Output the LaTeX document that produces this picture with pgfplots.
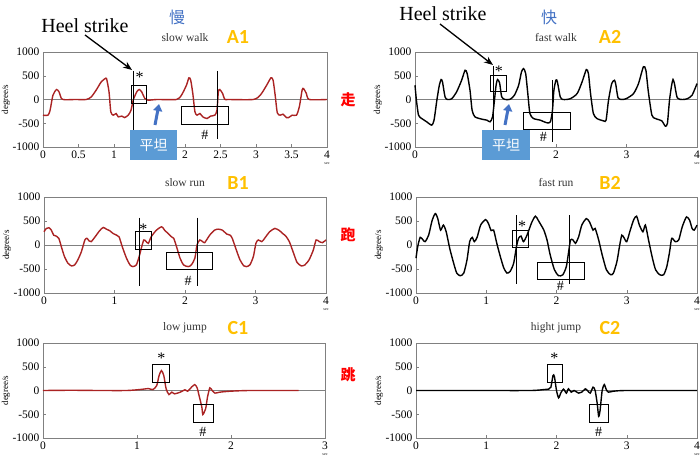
\documentclass[border=0pt]{standalone}
\usepackage{fontspec}
\setmainfont{Liberation Serif}
\newfontfamily\cjk{Noto Sans CJK SC}
\newfontfamily\lab{Carlito}
\usepackage{pgfplots}
\pgfplotsset{compat=1.18}
\usetikzlibrary{arrows.meta}
\definecolor{lred}{RGB}{170,35,35}
\definecolor{orng}{RGB}{255,192,0}
\definecolor{blueA}{RGB}{68,114,196}
\definecolor{boxblue}{RGB}{91,155,213}
\pgfplotsset{panel/.style={scale only axis, anchor=south west,
  ymin=-1000, ymax=1000, ytick={-1000,-500,0,500,1000},
  axis line style={gray}, tick style={gray}, tick align=inside, major tick length=3pt,
  ticklabel style={font=\fontsize{11.5}{11.5}\selectfont},
  /pgf/number format/assume math mode=true,
  /pgf/number format/1000 sep={},
  clip=false,
  ylabel={degree/s}, ylabel style={font=\fontsize{9}{9}\selectfont, at={(rel axis cs:0,0.5)}, anchor=center, yshift=37pt},
  xtick pos=bottom, ytick pos=left},
  curve/.style={line width=1.4pt, smooth, tension=0.4}}
\newcommand{\zeroline}[1]{\addplot[gray, thin] coordinates {(0,0) (#1,0)};}
\newcommand{\secl}{\node[font=\fontsize{4}{4}\selectfont, anchor=north] at (rel axis cs:1,0) [yshift=-12pt]{sec};}
\begin{document}
\begin{tikzpicture}[x=1pt,y=1pt]
\useasboundingbox (0,0) rectangle (700,456);
% ---------- A1
\begin{axis}[panel, at={(43pt,309pt)}, width=284pt, height=95pt, xmin=0, xmax=4, xtick={0,0.5,...,4}]
\zeroline{4}
\addplot[curve, lred] coordinates {(0,-330)(0.07,-330)(0.10,-225)(0.14,90)(0.19,210)(0.226,160)(0.26,20)(0.31,-5)(0.45,0)(0.61,0)(0.68,55)(0.75,200)(0.82,370)(0.885,450)(0.90,410)(0.93,160)(0.955,-260)(0.99,-330)(1.03,-295)(1.06,-365)(1.11,-350)(1.15,-380)(1.2,-330)(1.24,-225)(1.27,-15)(1.32,160)(1.355,210)(1.39,160)(1.435,20)(1.48,-15)(1.6,0)(1.88,0)(1.95,90)(2.02,300)(2.055,456)(2.08,410)(2.11,125)(2.14,-260)(2.17,-330)(2.21,-295)(2.25,-365)(2.31,-400)(2.36,-350)(2.42,-330)(2.45,-225)(2.47,160)(2.49,210)(2.53,125)(2.56,5)(2.61,0)(2.96,0)(3.06,90)(3.15,300)(3.21,456)(3.24,410)(3.27,90)(3.30,-280)(3.34,-330)(3.38,-310)(3.43,-380)(3.46,-380)(3.51,-330)(3.57,-330)(3.61,-155)(3.65,200)(3.67,230)(3.71,125)(3.75,0)(4.0,0)};
\draw[black, thick] (axis cs:1.27,600) -- (axis cs:1.27,-850);
\draw[black, thick] (axis cs:2.45,600) -- (axis cs:2.45,-840);
\draw[black, thick] (axis cs:1.24,295) rectangle (axis cs:1.46,-85);
\draw[black, thick] (axis cs:1.95,-155) rectangle (axis cs:2.61,-525);
\node[font=\fontsize{16}{16}\selectfont] at (axis cs:1.36,470) {*};
\node[font=\fontsize{14}{14}\selectfont] at (axis cs:2.28,-750) {\#};
\secl
\end{axis}
% ---------- A2
\begin{axis}[panel, at={(415pt,309pt)}, width=282pt, height=95pt, xmin=0, xmax=4, xtick={0,1,2,3,4}]
\zeroline{4}
\addplot[curve, black] coordinates {(0,300)(0.02,-15)(0.05,-330)(0.095,-400)(0.166,-470)(0.237,-540)(0.27,-435)(0.31,-15)(0.345,300)(0.37,420)(0.39,370)(0.426,55)(0.46,0)(0.52,15)(0.59,160)(0.66,400)(0.71,615)(0.74,545)(0.78,195)(0.81,-225)(0.85,-365)(0.95,-415)(1.02,-435)(1.065,-470)(1.10,-365)(1.127,-15)(1.15,300)(1.17,420)(1.20,350)(1.23,55)(1.28,0)(1.35,5)(1.41,90)(1.47,300)(1.51,580)(1.54,650)(1.57,545)(1.60,125)(1.63,-295)(1.68,-400)(1.775,-435)(1.87,-490)(1.92,-470)(1.95,-225)(1.97,195)(2.0,410)(2.02,370)(2.06,55)(2.1,0)(2.2,15)(2.3,125)(2.37,370)(2.43,630)(2.46,545)(2.49,125)(2.53,-295)(2.58,-400)(2.675,-450)(2.71,-435)(2.745,-15)(2.79,335)(2.83,405)(2.85,300)(2.88,35)(2.935,0)(3.0,20)(3.1,125)(3.17,335)(3.24,690)(3.275,615)(3.31,160)(3.36,-330)(3.41,-400)(3.50,-450)(3.55,-560)(3.58,-505)(3.61,-15)(3.64,300)(3.66,420)(3.68,335)(3.72,35)(3.79,0)(3.86,15)(3.93,90)(4.0,335)};
\draw[black, thick] (axis cs:1.11,700) -- (axis cs:1.11,-700);
\draw[black, thick] (axis cs:1.95,400) -- (axis cs:1.95,-890);
\draw[black, thick] (axis cs:1.065,510) rectangle (axis cs:1.29,160);
\draw[black, thick] (axis cs:1.54,-275) rectangle (axis cs:2.21,-630);
\node[font=\fontsize{16}{16}\selectfont] at (axis cs:1.19,600) {*};
\node[font=\fontsize{14}{14}\selectfont] at (axis cs:1.82,-785) {\#};
\secl
\end{axis}
% ---------- B1
\begin{axis}[panel, at={(44pt,163pt)}, width=282pt, height=96pt, xmin=0, xmax=4, xtick={0,1,2,3,4}]
\zeroline{4}
\addplot[curve, lred] coordinates {(0,275)(0.033,345)(0.07,360)(0.104,310)(0.137,205)(0.175,185)(0.21,140)(0.246,-35)(0.29,-240)(0.34,-380)(0.39,-435)(0.435,-415)(0.48,-310)(0.53,-140)(0.58,105)(0.61,140)(0.64,85)(0.67,70)(0.72,160)(0.79,300)(0.84,365)(0.885,330)(0.93,300)(0.98,240)(1.03,205)(1.065,170)(1.11,-35)(1.17,-275)(1.22,-415)(1.26,-450)(1.31,-415)(1.35,-240)(1.38,-70)(1.415,105)(1.44,85)(1.48,35)(1.52,170)(1.595,310)(1.67,380)(1.71,310)(1.76,240)(1.81,170)(1.84,140)(1.88,-35)(1.93,-275)(1.98,-415)(2.045,-450)(2.09,-415)(2.14,-275)(2.17,0)(2.21,105)(2.25,70)(2.28,50)(2.35,205)(2.42,310)(2.47,330)(2.53,310)(2.59,230)(2.64,205)(2.67,140)(2.72,-70)(2.78,-310)(2.835,-435)(2.87,-450)(2.92,-415)(2.97,-240)(3.006,35)(3.04,105)(3.09,70)(3.13,140)(3.2,275)(3.275,345)(3.34,300)(3.385,240)(3.43,185)(3.48,70)(3.54,-170)(3.59,-365)(3.65,-435)(3.70,-415)(3.76,-310)(3.82,-105)(3.86,105)(3.905,70)(3.95,50)(4.0,105)};
\draw[black, thick] (axis cs:1.35,570) -- (axis cs:1.35,-850);
\draw[black, thick] (axis cs:2.17,570) -- (axis cs:2.17,-850);
\draw[black, thick] (axis cs:1.30,290) rectangle (axis cs:1.52,-90);
\draw[black, thick] (axis cs:1.73,-145) rectangle (axis cs:2.39,-517);
\node[font=\fontsize{16}{16}\selectfont] at (axis cs:1.41,330) {*};
\node[font=\fontsize{14}{14}\selectfont] at (axis cs:2.045,-740) {\#};
\secl
\end{axis}
% ---------- B2
\begin{axis}[panel, at={(416pt,163pt)}, width=281pt, height=96pt, xmin=0, xmax=4, xtick={0,1,2,3,4}]
\zeroline{4}
\addplot[curve, black] coordinates {(0,-275)(0.024,-35)(0.06,160)(0.10,105)(0.13,70)(0.18,205)(0.23,515)(0.275,655)(0.31,550)(0.35,310)(0.39,415)(0.43,275)(0.48,-70)(0.536,-380)(0.58,-585)(0.63,-640)(0.68,-585)(0.726,-310)(0.764,70)(0.80,160)(0.83,70)(0.87,160)(0.92,415)(0.99,530)(1.03,450)(1.07,300)(1.105,310)(1.15,35)(1.2,-240)(1.25,-480)(1.295,-585)(1.34,-550)(1.39,-380)(1.43,-35)(1.46,140)(1.495,185)(1.53,70)(1.58,205)(1.65,480)(1.70,600)(1.74,515)(1.78,415)(1.82,310)(1.865,105)(1.91,-205)(1.97,-515)(2.03,-640)(2.09,-620)(2.14,-450)(2.17,-170)(2.20,105)(2.235,105)(2.27,35)(2.315,170)(2.36,415)(2.425,550)(2.47,480)(2.52,310)(2.55,345)(2.60,105)(2.65,-205)(2.71,-515)(2.77,-620)(2.81,-585)(2.86,-345)(2.9,0)(2.93,205)(2.965,140)(3.0,70)(3.05,310)(3.10,530)(3.14,600)(3.18,415)(3.23,275)(3.265,415)(3.31,105)(3.36,-240)(3.41,-515)(3.47,-620)(3.525,-620)(3.57,-450)(3.61,-140)(3.64,140)(3.69,70)(3.74,105)(3.79,380)(3.85,585)(3.895,515)(3.93,345)(3.96,310)(4.0,415)};
\draw[black, thick] (axis cs:1.43,620) -- (axis cs:1.43,-805);
\draw[black, thick] (axis cs:2.18,620) -- (axis cs:2.18,-805);
\draw[black, thick] (axis cs:1.376,310) rectangle (axis cs:1.60,-55);
\draw[black, thick] (axis cs:1.73,-360) rectangle (axis cs:2.40,-725);
\node[font=\fontsize{16}{16}\selectfont] at (axis cs:1.51,400) {*};
\node[font=\fontsize{14}{14}\selectfont] at (axis cs:2.055,-860) {\#};
\secl
\end{axis}
% ---------- C1
\begin{axis}[panel, at={(43pt,18pt)}, width=282pt, height=95pt, xmin=0, xmax=3, xtick={0,1,2,3}]
\zeroline{3}
\addplot[curve, lred] coordinates {(0,0)(0.3,5)(0.6,0)(0.89,0)(1.03,20)(1.12,40)(1.17,20)(1.21,105)(1.235,315)(1.26,420)(1.285,315)(1.31,35)(1.34,-85)(1.37,-35)(1.40,-70)(1.46,-35)(1.51,15)(1.54,-15)(1.58,70)(1.615,125)(1.64,55)(1.66,-105)(1.69,-350)(1.70,-505)(1.73,-385)(1.75,-140)(1.775,55)(1.80,0)(1.83,-55)(1.88,-35)(1.99,-15)(2.2,0)(2.72,0)};
\draw[black, thick] (axis cs:1.165,540) rectangle (axis cs:1.34,175);
\draw[black, thick] (axis cs:1.605,-295) rectangle (axis cs:1.81,-667);
\node[font=\fontsize{16}{16}\selectfont] at (axis cs:1.26,680) {*};
\node[font=\fontsize{14}{14}\selectfont] at (axis cs:1.70,-877) {\#};
\secl
\end{axis}
% ---------- C2
\begin{axis}[panel, at={(416pt,18pt)}, width=281pt, height=95pt, xmin=0, xmax=4, xtick={0,1,2,3,4}]
\zeroline{4}
\addplot[curve, black] coordinates {(0,0)(0.8,0)(1.63,0)(1.82,20)(1.89,30)(1.92,70)(1.95,315)(1.97,295)(2.0,0)(2.03,-155)(2.06,-55)(2.10,30)(2.14,-55)(2.17,35)(2.21,-35)(2.25,0)(2.315,-55)(2.36,-35)(2.41,35)(2.44,0)(2.48,-55)(2.52,70)(2.55,0)(2.58,-280)(2.60,-545)(2.62,-420)(2.65,0)(2.68,125)(2.71,15)(2.74,-35)(2.81,-15)(3.0,0)(4.0,0)};
\draw[black, thick] (axis cs:1.865,545) rectangle (axis cs:2.09,175);
\draw[black, thick] (axis cs:2.47,-295) rectangle (axis cs:2.74,-667);
\node[font=\fontsize{16}{16}\selectfont] at (axis cs:1.97,680) {*};
\node[font=\fontsize{14}{14}\selectfont] at (axis cs:2.60,-877) {\#};
\secl
\end{axis}
% ---------- annotations
\node[font=\fontsize{11.5}{11.5}\selectfont, text=black!80] at (185,418) {slow walk};
\node[font=\fontsize{11.5}{11.5}\selectfont, text=black!80] at (556,418) {fast walk};
\node[font=\fontsize{11.5}{11.5}\selectfont, text=black!80] at (185,273) {slow run};
\node[font=\fontsize{11.5}{11.5}\selectfont, text=black!80] at (556,273) {fast run};
\node[font=\fontsize{11.5}{11.5}\selectfont, text=black!80] at (185,128) {low jump};
\node[font=\fontsize{11.5}{11.5}\selectfont, text=black!80] at (556,128) {hight jump};
\foreach \t/\x/\y in {A1/238/419, A2/610/419, B1/238/273, B2/610/273, C1/238/128, C2/610/128}
  \node[font=\lab\bfseries\fontsize{20}{20}\selectfont, text=orng] at (\x,\y) {\t};
\node[font=\cjk\fontsize{16}{16}\selectfont, text=blueA] at (177,439) {慢};
\node[font=\cjk\fontsize{16}{16}\selectfont, text=blueA] at (549,439) {快};
\node[font=\cjk\bfseries\fontsize{15}{15}\selectfont, text=red] at (348,356) {走};
\node[font=\cjk\bfseries\fontsize{15}{15}\selectfont, text=red] at (348,221) {跑};
\node[font=\cjk\bfseries\fontsize{15}{15}\selectfont, text=red] at (348,81) {跳};
\node[font=\fontsize{20}{20}\selectfont] at (85,430) {Heel strike};
\node[font=\fontsize{20}{20}\selectfont] at (443,442) {Heel strike};
\draw[-{Stealth[length=9pt,width=7pt]}, line width=1.3pt] (85,421) -- (132,386);
\draw[-{Stealth[length=9pt,width=7pt]}, line width=1.3pt] (440,432) -- (493,391);
\fill[boxblue] (130,296) rectangle (177,326);
\fill[boxblue] (482,296) rectangle (530,326);
\node[font=\cjk\fontsize{14}{14}\selectfont, text=white] at (153.5,311) {平坦};
\node[font=\cjk\fontsize{14}{14}\selectfont, text=white] at (506,311) {平坦};
\draw[-{Triangle[length=7pt,width=9pt]}, line width=3pt, blueA] (155,331) -- (159,352);
\draw[-{Triangle[length=7pt,width=9pt]}, line width=3pt, blueA] (505,331) -- (509,352);
\end{tikzpicture}
\end{document}
